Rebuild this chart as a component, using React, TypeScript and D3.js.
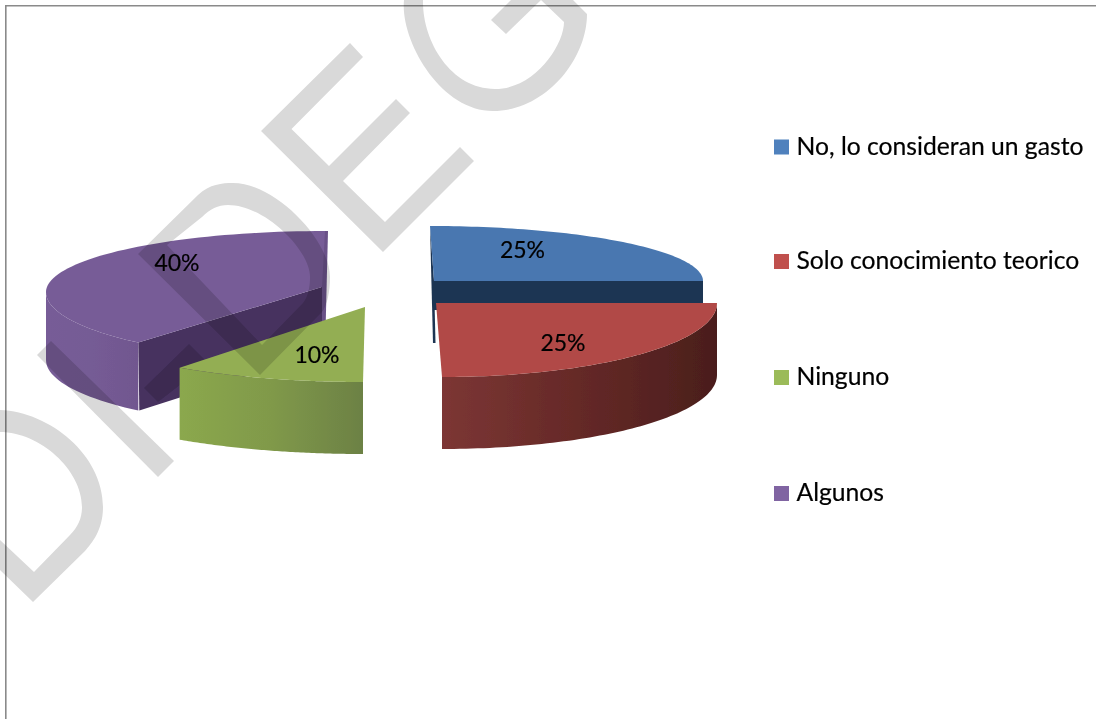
import React from "react";
import * as d3 from "d3";

const categories = ["No, lo consideran un gasto", "Solo conocimiento teorico", "Ninguno", "Algunos"];
const shares = [25, 25, 10, 40];
const swatchColors = ["#4f81bd", "#c0504d", "#9bbb59", "#8064a2"];
const topColors = ["#4877b0", "#b14a46", "#93ae52", "#775c97"];
const cutColors = ["#1f3552", "#5a2422", "#7b9447", "#46315f"];
const wallStops = [
  ["#1f3552", "#1f3552", "#1f3552"],
  ["#7c3634", "#652927", "#4a1e1c"],
  ["#8ba84d", "#80994a", "#6c8144"],
  ["#775c97", "#755b95", "#71578f"],
];
const legendY = [147, 261.5, 377.5, 493.5];

// Each exploded slice has its own perspective ellipse.
const sliceLayout = [
  { apex: [434, 281], cx: 430, cy: 281, rx: 273, ryBack: 55, ryFront: 55, depth: 62, startShift: 0, label: [522.5, 258] },
  { apex: [436, 303], cx: 442, cy: 303, rx: 275, ryBack: 74, ryFront: 74, depth: 72, startShift: 0, label: [563, 351] },
  { apex: [365, 307], cx: 363, cy: 307, rx: 312, ryBack: 75, ryFront: 75, depth: 72, startShift: 0, label: [317, 363] },
  { apex: [322, 287], cx: 325, cy: 292, rx: 279, ryBack: 61, ryFront: 68, depth: 68, startShift: 6, label: [177, 271] },
];

const watermark = [
  "M0,410 C50,412 103,455 103,507 C103,530 92,543 85,551 L33,602 L0,570 L0,540 L34,572 L70,535 C78,527 82,518 82,507 C82,470 40,432 0,432 Z",
  "M51,341 L174,461 L158,477 L37,355 Z",
  "M138,254 L198,195 C210,184 222,183 233,183 C275,183 330,240 330,277 C330,292 327,306 322,312 L260,375 Z M167,245 L262,345 L303,303 C308,297 310,287 310,277 C310,250 265,205 228,205 C218,205 210,209 202,217 Z",
  "M350,43 L363,57 L291.5,129 L329,166 L396,99 L410,113 L343,181 L385,222 L460,147 L474,161 L383,252 L261,131 Z",
  "M404,0 C400,40 440,111 493,111 C545,111 587,60 587,14 L573,0 L541,0 L564,22 C564,45 535,89 495,89 C450,89 422,40 423,0 Z",
  "M541,0 L506,34 L491,20 L511,0 Z",
];
const watermarkUnderGreen = "M144,388 L189,344 L205,360 L180,385 L158,402 Z";

const FONT = "Lato, 'Open Sans', sans-serif";
const TAU = 2 * Math.PI;

export default function App() {
  const arcs = d3.pie<number>().sort(null).value((d) => d)(shares);
  const line = d3.line();

  const slices = arcs.map((a, i) => {
    const L = sliceLayout[i];
    const phi = d3.scaleLinear().domain([a.startAngle, a.endAngle]).range([a.startAngle + (L.startShift * TAU) / 360, a.endAngle]);
    const pt = (p: number, dy = 0): [number, number] => {
      const c = Math.cos(p);
      return [L.cx + L.rx * Math.sin(p), L.cy - (c > 0 ? L.ryBack : L.ryFront) * c + dy];
    };
    const p0 = phi(a.startAngle);
    const p1 = phi(a.endAngle);
    const samples = d3.range(0, 73).map((k) => p0 + ((p1 - p0) * k) / 72);
    const top = line([L.apex as [number, number], ...samples.map((p) => pt(p))]) + "Z";
    const frontSamples = samples.filter((p) => p >= Math.PI / 2 && p <= 1.5 * Math.PI);
    const wall = frontSamples.length
      ? line([...frontSamples.map((p) => pt(p)), ...frontSamples.slice().reverse().map((p) => pt(p, L.depth))]) + "Z"
      : "";
    return { i, L, top, wall, start: pt(p0), end: pt(p1) };
  });

  const [blue, red, green, purple] = slices;

  return (
    <svg width={1096} height={719} viewBox="0 0 1096 719" style={{ position: "fixed", left: 0, top: 0, background: "#fff" }}>
      <defs>
        {wallStops.map((s, i) => (
          <linearGradient key={i} id={`wall${i}`} gradientUnits="objectBoundingBox" x1="0" x2="1" y1="0" y2="0">
            <stop offset="0" stopColor={s[0]} />
            <stop offset="0.5" stopColor={s[1]} />
            <stop offset="1" stopColor={s[2]} />
          </linearGradient>
        ))}
        <filter id="soft" x="-5%" y="-5%" width="110%" height="110%">
          <feGaussianBlur stdDeviation="0.6" />
        </filter>
        <filter id="softText" x="-5%" y="-10%" width="110%" height="120%">
          <feGaussianBlur stdDeviation="0.35" />
        </filter>
      </defs>

      <path d="M1096,5.8 H5.8 V719" fill="none" stroke="#8a8a8a" strokeWidth={1.6} />

      <g filter="url(#soft)">
        {/* Purple */}
        <path d={line([[328, 231], [321, 231], [321, 352], [325, 352]])! + "Z"} fill="#6a5188" />
        <path
          d={line([purple.start, purple.L.apex as [number, number], [322, 352], [purple.start[0] + 1, purple.start[1] + purple.L.depth]])! + "Z"}
          fill={cutColors[3]}
        />
        <path d={purple.wall} fill="url(#wall3)" />
        <path d={purple.top} fill={topColors[3]} />
        <path d={watermarkUnderGreen} fill="#d9d9d9" style={{ mixBlendMode: "multiply" }} />

        {/* Blue */}
        <path d={line([blue.start, blue.L.apex as [number, number], [435.5, 343], [433, 343]])! + "Z"} fill={cutColors[0]} />
        <path d={line([blue.L.apex as [number, number], [703, 281], [703, 310], [434, 310]])! + "Z"} fill={cutColors[0]} />
        <path d={blue.top} fill={topColors[0]} />

        {/* Red */}
        <path d={red.wall} fill="url(#wall1)" />
        <path d={red.top} fill={topColors[1]} />

        {/* Green */}
        <path d={green.wall} fill="url(#wall2)" />
        <path d={green.top} fill={topColors[2]} />
      </g>

      <g filter="url(#softText)">
        {arcs.map((a, i) => (
          <text
            key={i}
            x={sliceLayout[i].label[0]}
            y={sliceLayout[i].label[1]}
            textAnchor="middle"
            fontFamily={FONT}
            fontSize={23}
            fill="#000"
            stroke="#000"
            strokeWidth={0.2}
          >
            {`${a.data}%`}
          </text>
        ))}
      </g>

      <g>
        {watermark.map((d, i) => (
          <path key={i} d={d} fill="#d9d9d9" fillRule="evenodd" style={{ mixBlendMode: "multiply" }} />
        ))}
      </g>

      {categories.map((c, i) => (
        <g key={c}>
          <rect x={774} y={legendY[i] - 7.5} width={15} height={15} fill={swatchColors[i]} />
          <text
            x={796.5}
            y={legendY[i] + 7.5}
            fontFamily={FONT}
            fontSize={24.7}
            fill="#000"
            stroke="#000"
            strokeWidth={0.2}
            filter="url(#softText)"
          >
            {c}
          </text>
        </g>
      ))}
    </svg>
  );
}
